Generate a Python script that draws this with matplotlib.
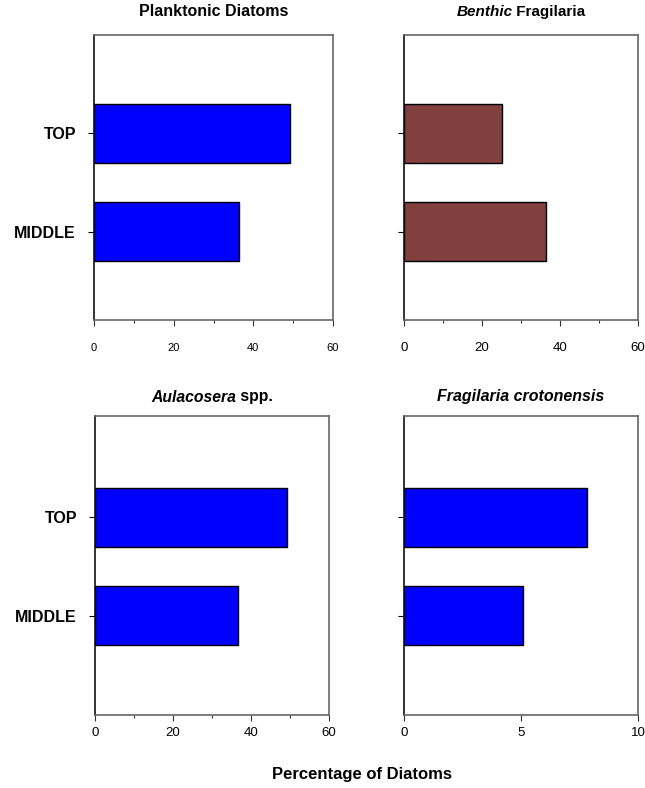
import matplotlib.pyplot as plt
from matplotlib.ticker import MultipleLocator

plt.rcParams['font.family'] = ['Liberation Sans', 'DejaVu Sans']

categories = ["MIDDLE", "TOP"]
planktonic = [36.5, 49.3]
benthic_fragilaria = [36.5, 25.2]
aulacosera = [36.6, 49.3]
f_crotonensis = [5.1, 7.8]

panels = [
    # (values, title parts, title size, colour, xmax, major, minor, tick fontsize, tick pad, show labels)
    (planktonic, [("Planktonic Diatoms", "normal")], 11.5, "#0000FF", 60, 20, 10, 8, 12.5, True),
    (benthic_fragilaria, [("Benthic", "italic"), (" Fragilaria", "normal")], 11, "#804040", 60, 20, 10, 9.5, 12, False),
    (aulacosera, [("Aulacosera", "italic"), (" spp.", "normal")], 11.3, "#0000FF", 60, 20, 10, 9.5, 5, True),
    (f_crotonensis, [("Fragilaria crotonensis", "italic")], 11.5, "#0000FF", 10, 5, None, 9.5, 5, False),
]

W, H = 645, 788
fig = plt.figure(figsize=(W / 100, H / 100), dpi=100)

# axes rectangles in pixels: left, top, right, bottom
rects = [
    (94, 35, 333, 320),
    (404, 35, 638, 320),
    (95, 416, 329, 715),
    (404, 416, 638, 715),
]
ylims = [(-0.9, 2.0), (-0.9, 2.0), (-1.01, 2.03), (-1.01, 2.03)]
title_y = [12, 12, 397, 397]

renderer = fig.canvas.get_renderer()

for (vals, tparts, tsize, color, xmax, major, minor, tfs, tpad, show_lbl), (l, t, r, b), yl, ty in zip(
        panels, rects, ylims, title_y):
    ax = fig.add_axes([l / W, 1 - b / H, (r - l) / W, (b - t) / H])
    ypos = list(range(len(categories)))
    ax.barh(ypos, vals, height=0.6, color=color, edgecolor="black", linewidth=1.0)
    ax.set_xlim(0, xmax)
    ax.set_ylim(*yl)
    ax.xaxis.set_major_locator(MultipleLocator(major))
    if minor:
        ax.xaxis.set_minor_locator(MultipleLocator(minor))
    ax.tick_params(axis="x", which="major", direction="out", length=4, width=0.8,
                   labelsize=tfs, pad=tpad, color="#333333")
    ax.tick_params(axis="x", which="minor", direction="out", length=2.5, width=0.8, color="#333333")
    ax.set_yticks(ypos)
    if show_lbl:
        ax.set_yticklabels(categories, fontsize=11.5, fontweight="bold")
    else:
        ax.set_yticklabels([])
    ax.tick_params(axis="y", direction="out", length=4, width=0.8, pad=9)
    for side in ("top", "right", "bottom"):
        ax.spines[side].set_color("#666666")
        ax.spines[side].set_linewidth(1.2)
    ax.spines["left"].set_color("#111111")
    ax.spines["left"].set_linewidth(1.2)

    # title with mixed italic / upright parts, centred over the axes
    cx = (l + r) / 2
    widths = []
    for txt, style in tparts:
        tt = fig.text(0, 0, txt, fontsize=tsize, fontweight="bold", fontstyle=style)
        widths.append(tt.get_window_extent(renderer=renderer).width)
        tt.remove()
    x0 = cx - sum(widths) / 2
    for (txt, style), w in zip(tparts, widths):
        fig.text(x0 / W, 1 - ty / H, txt, ha="left", va="center", fontsize=tsize,
                 fontweight="bold", fontstyle=style)
        x0 += w

fig.text(362 / W, 1 - 775 / H, "Percentage of Diatoms", ha="center", va="center",
         fontsize=12, fontweight="bold")

fig.savefig("out.png", dpi=100)
